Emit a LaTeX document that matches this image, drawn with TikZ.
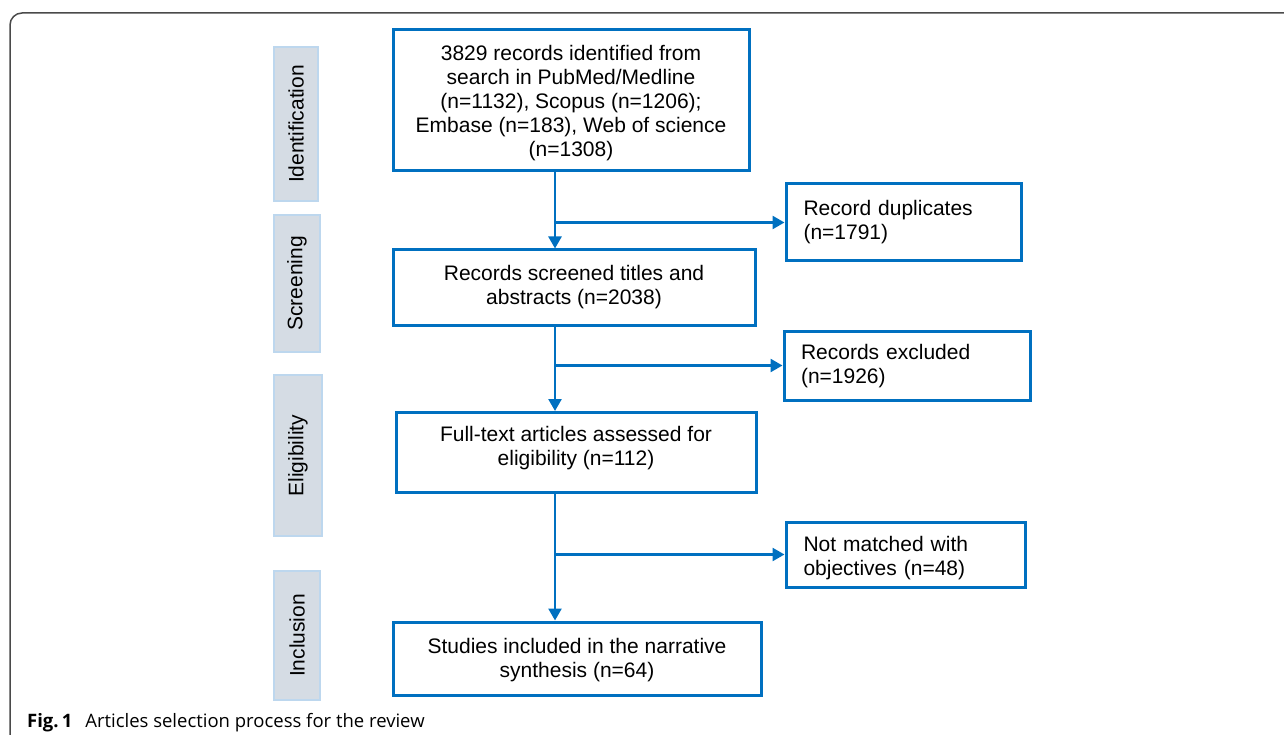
\documentclass[tikz,border=0pt]{standalone}
\usepackage{fontspec}
\setmainfont{Liberation Sans}
\newfontfamily\capfont{Open Sans}
\usetikzlibrary{arrows.meta}
\definecolor{flowblue}{HTML}{0070C0}
\definecolor{phasefill}{HTML}{D5DCE4}
\definecolor{phaseedge}{HTML}{BDD7EE}
\definecolor{framegray}{HTML}{4A4A4A}
\newcommand{\ctext}[2]{\raisebox{#1}[0pt][0pt]{\begin{tabular}{@{}c@{}}#2\end{tabular}}}
\newcommand{\ltext}[2]{\raisebox{#1}[0pt][0pt]{\begin{tabular}{@{}l@{}}#2\end{tabular}}}
\tikzset{
  mainbox/.style={draw=flowblue, line width=3pt, fill=white, inner sep=0pt,
    font=\fontsize{21}{24}\selectfont},
  sidebox/.style={draw=flowblue, line width=3pt, fill=white, align=left, inner sep=0pt,
    font=\fontsize{21}{24}\selectfont},
  phase/.style={draw=phaseedge, line width=2pt, fill=phasefill, inner sep=0pt, rotate=90,
    font=\fontsize{21}{24}\selectfont},
  arr/.style={draw=flowblue, line width=2.5pt, -{Triangle[length=12pt,width=13pt]}},
}
\begin{document}
\begin{tikzpicture}[x=1pt,y=-1pt]
\useasboundingbox (0,0) rectangle (1284,735);
% frame
\draw[framegray, line width=1.5pt] (10,740) -- (10,25) arc[start angle=180,end angle=270,radius=12] -- (1290,13);
% phases
\node[phase, minimum width=154pt, minimum height=44pt] (pid) at (296,124) {Identification};
\node[phase, minimum width=137pt, minimum height=46pt] (psc) at (297,283.5) {Screening};
\node[phase, minimum width=161pt, minimum height=48pt] (pel) at (298,455.5) {Eligibility};
\node[phase, minimum width=129pt, minimum height=46pt] (pin) at (297,635.5) {Inclusion};
% main boxes
\node[mainbox, minimum width=356pt, minimum height=141pt] (b1) at (571,100.5)
  {\ctext{-8pt}{3829 records identified from\\search in PubMed/Medline\\(n=1132), Scopus (n=1206);\\Embase (n=183), Web of science\\(n=1308)}};
\node[mainbox, minimum width=362pt, minimum height=75pt] (b2) at (574,287.5)
  {\ctext{-5pt}{Records screened titles and\\abstracts (n=2038)}};
\node[mainbox, minimum width=360pt, minimum height=80pt] (b3) at (576,452.5)
  {\ctext{-1pt}{Full-text articles assessed for\\eligibility (n=112)}};
\node[mainbox, minimum width=368pt, minimum height=73pt] (b4) at (577,658.5)
  {\ctext{-7pt}{Studies included in the narrative\\synthesis (n=64)}};
% side boxes
\node[sidebox, minimum width=235pt, minimum height=77pt, text width=200pt] (dup) at (903.5,222.5)
  {\ltext{-5pt}{Record duplicates\\(n=1791)}};
\node[sidebox, minimum width=246pt, minimum height=69pt, text width=212pt] (exc) at (907,365.5)
  {\ltext{-6pt}{Records excluded\\(n=1926)}};
\node[sidebox, minimum width=239pt, minimum height=65pt, text width=204pt] (nm) at (905.5,554.5)
  {\ltext{-9pt}{Not matched with\\objectives (n=48)}};
% column
\coordinate (col) at (555,0);
\draw[arr] (b1.south -| col) -- (b2.north -| col);
\draw[arr] (dup.west -| col) -- (dup.west);
\draw[arr] (b2.south -| col) -- (b3.north -| col);
\draw[arr] (exc.west -| col) -- (exc.west);
\draw[arr] (b3.south -| col) -- (b4.north -| col);
\draw[arr] (nm.west -| col) -- (nm.west);
% caption
\node[anchor=base west, inner sep=0pt, font=\capfont\fontsize{18.5}{22}\selectfont] (cap) at (27,727)
  {\textbf{Fig.\,1}\hspace{0.7em}Articles selection process for the review};
\end{tikzpicture}
\end{document}
